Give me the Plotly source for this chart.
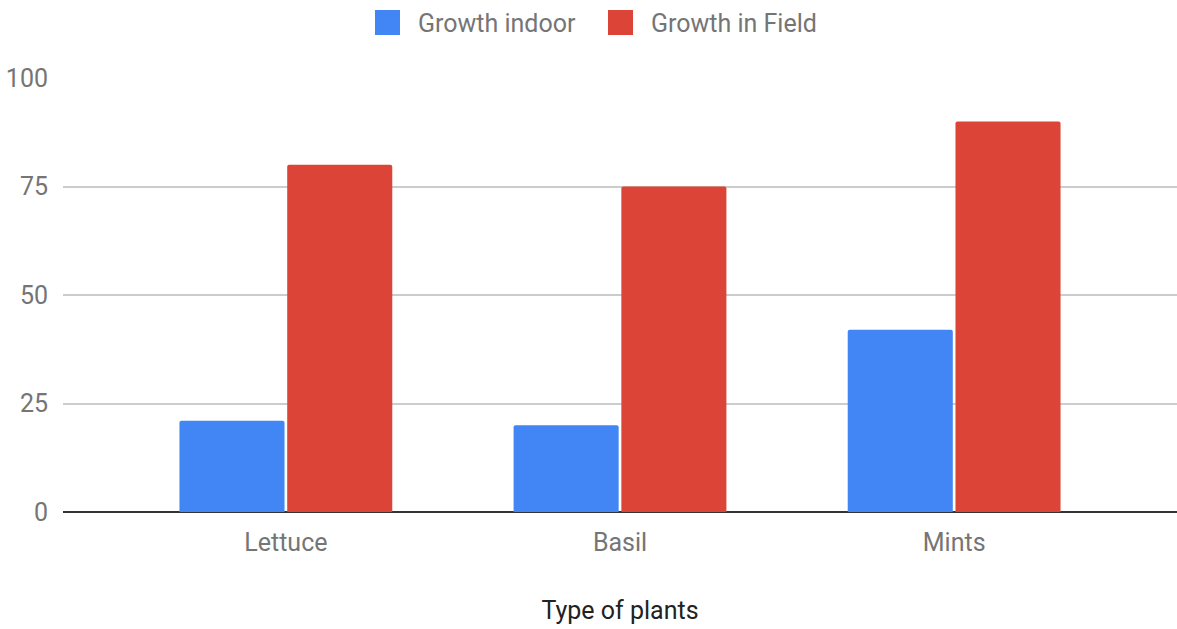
import plotly.graph_objects as go

# Chart data
plants = ["Lettuce", "Basil", "Mints"]
growth_indoor = [21, 20, 42]
growth_field = [80, 75, 90]
series_names = ["Growth indoor", "Growth in Field"]
series_colors = ["#4285F4", "#DB4437"]
y_ticks = [0, 25, 50, 75, 100]

W, H = 1177, 629
M_L, M_R, M_T, M_B = 63, 0, 78, 117
PW, PH = W - M_L - M_R, H - M_T - M_B
FONT = "Roboto"
FS = 25


def px_x(px):
    return (px - M_L) / PW


def px_y(py):
    return (H - M_B - py) / PH


fig = go.Figure()
for name, vals, color in zip(series_names, [growth_indoor, growth_field], series_colors):
    fig.add_trace(go.Bar(
        x=plants, y=vals, name=name,
        marker=dict(color=color, line=dict(width=0), cornerradius=2),
        showlegend=False,
    ))

# Legend drawn as rounded swatches plus labels, centred above the plot
shapes = []
annotations = []
legend_items = [(375, 416), (608, 649)]
for (sx, tx), name, color in zip(legend_items, series_names, series_colors):
    x0, x1 = px_x(sx), px_x(sx + 25)
    y0, y1 = px_y(35), px_y(10)
    shapes.append(dict(type="rect", xref="paper", yref="paper",
                       x0=x0, x1=x1, y0=y0, y1=y1,
                       fillcolor=color, line=dict(width=0), layer="above"))
    annotations.append(dict(text=name, xref="paper", yref="paper",
                            x=px_x(tx), y=px_y(23), xanchor="left", yanchor="middle",
                            showarrow=False,
                            font=dict(family=FONT, size=FS, color="#757575")))

fig.update_layout(
    width=W, height=H,
    margin=dict(l=M_L, r=M_R, t=M_T, b=M_B, pad=0),
    paper_bgcolor="white", plot_bgcolor="white",
    barmode="group", bargap=0.355, bargroupgap=0.025,
    font=dict(family=FONT, size=FS, color="#757575"),
    shapes=shapes, annotations=annotations,
    showlegend=False,
    xaxis=dict(
        range=[-0.667, 2.667], showgrid=False, zeroline=False, showline=False,
        ticks="", ticklabelstandoff=13,
        tickfont=dict(family=FONT, size=FS, color="#757575"),
        title=dict(text="Type of plants", font=dict(family=FONT, size=FS, color="#222222"),
                   standoff=45),
    ),
    yaxis=dict(
        range=[0, 100], tickvals=y_ticks, showgrid=True, gridcolor="#CCCCCC", gridwidth=1.5,
        zeroline=True, zerolinecolor="#333333", zerolinewidth=1.5, showline=False,
        ticks="", ticklabelstandoff=14,
        tickfont=dict(family=FONT, size=FS, color="#757575"),
    ),
)

fig.write_html("out.html")
